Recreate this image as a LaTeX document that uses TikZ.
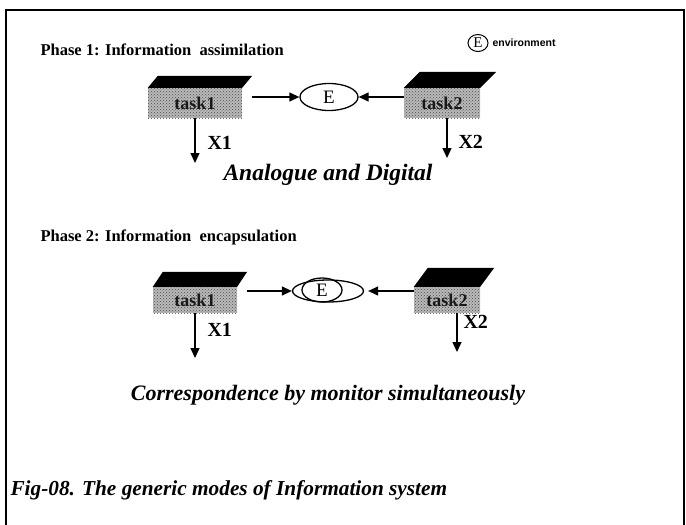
\documentclass[tikz,border=0pt]{standalone}
\usepackage{fontspec}
\setmainfont{Liberation Serif}
\setsansfont{Liberation Sans}
\usetikzlibrary{arrows.meta,shapes.geometric,calc,patterns}
\tikzset{
  taskbox/.style={fill=gray!55, postaction={pattern=crosshatch dots, pattern color=black!70},
    inner sep=0pt, font=\bfseries\fontsize{18}{18}\selectfont, text=black!90},
  envell/.style={draw, ellipse, line width=1.3pt, inner sep=0pt, font=\fontsize{19}{19}\selectfont},
  arr/.style={line width=1.3pt, -{Triangle[length=10pt,width=9pt]}},
  xlabel/.style={font=\bfseries\fontsize{20}{20}\selectfont, anchor=west},
  phase/.style={font=\bfseries\fontsize{16.5}{16.5}\selectfont, anchor=west},
  note/.style={font=\bfseries\itshape\fontsize{22}{22}\selectfont},
}
\newcommand{\boxroof}[3]{%
  \fill (#1.north west) -- ++(#2,-#3) -- ($(#1.north east)+(#2,-#3)$) -- (#1.north east) -- cycle;}
\begin{document}
\begin{tikzpicture}[x=1pt,y=-1pt]
\useasboundingbox (0,0) rectangle (686,525);
% outer frame, open at the bottom
\draw[line width=1.4pt] (6,525) -- (6,10) -- (684,10) -- (684,525);

% legend
\node[envell, line width=1pt, minimum width=20pt, minimum height=17pt, font=\fontsize{15}{15}\selectfont] (lgE) at (478,43) {E};
\node[anchor=west, font=\sffamily\bfseries\fontsize{10.5}{10.5}\selectfont] (lgT) at (489,43) {environment};

% phase 1
\node[phase] (p1) at (37,50) {Phase 1: Information\ \ assimilation};
\node[taskbox, minimum width=94pt, minimum height=30pt] (a1) at (195,103) {task1};
\node[taskbox, minimum width=76pt, minimum height=30pt] (b1) at (442,103) {task2};
\boxroof{a1}{10}{12}
\boxroof{b1}{16}{16}
\node[envell, minimum width=58pt, minimum height=27pt] (e1) at (329,97) {E};
\draw[arr] ([xshift=10pt]a1.east |- e1.west) -- (e1.west);
\draw[arr] (b1.west |- e1.east) -- (e1.east);
\coordinate (x1a) at (195,163);
\coordinate (x2a) at (447,158);
\draw[arr] (a1.south -| x1a) -- (x1a);
\draw[arr] (b1.south -| x2a) -- (x2a);
\node[xlabel] (l1a) at (204,143) {X1};
\node[xlabel] (l2a) at (455,142) {X2};
\node[note, font=\bfseries\itshape\fontsize{23.5}{23.5}\selectfont] (n1) at (328,175) {Analogue and Digital};

% phase 2
\node[phase] (p2) at (37,237) {Phase 2: Information\ \ encapsulation};
\node[taskbox, minimum width=84pt, minimum height=26pt] (a2) at (195,300) {task1};
\node[taskbox, minimum width=66pt, minimum height=26pt] (b2) at (447,300) {task2};
\boxroof{a2}{10}{15}
\boxroof{b2}{14}{19}
\node[envell, minimum width=71pt, minimum height=22pt] (e2o) at (328,291) {};
\node[envell, minimum width=40pt, minimum height=24pt] (e2i) at (322,290) {E};
\draw[arr] ([xshift=10pt]a2.east |- e2o.west) -- (e2o.west);
\draw[arr, shorten >=4pt] (b2.west |- e2o.east) -- (e2o.east);
\coordinate (x1b) at (195,358);
\coordinate (x2b) at (457,352);
\draw[arr] (a2.south -| x1b) -- (x1b);
\draw[arr] (b2.south -| x2b) -- (x2b);
\node[xlabel] (l1b) at (204,330) {X1};
\node[xlabel] (l2b) at (460,322) {X2};
\node[note] (n2) at (328,395) {Correspondence by monitor simultaneously};

% caption
\node[note, font=\bfseries\itshape\fontsize{21.3}{21.3}\selectfont, anchor=west] (cap) at (7,490) {Fig-08. The generic modes of Information system};
\end{tikzpicture}
\end{document}
